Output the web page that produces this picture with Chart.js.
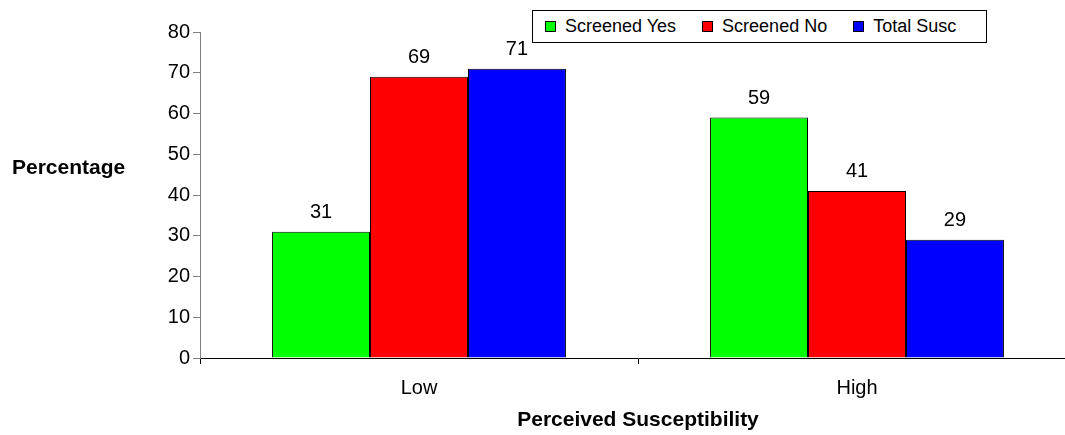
<!DOCTYPE html>
<html>
<head>
<meta charset="utf-8">
<script src="https://cdn.jsdelivr.net/npm/chart.js@4.4.0/dist/chart.umd.min.js"></script>
<style>
  body { margin: 0; background: #fff; overflow: hidden; font-family: Arial, "Liberation Sans", sans-serif; }
  #wrap { position: relative; width: 1080px; height: 435px; }
  #legend {
    position: absolute; left: 532px; top: 10px; width: 453px; height: 31px;
    border: 1px solid #000; background: #fff;
    display: flex; align-items: center; font-size: 18px; color: #000;
  }
  .item { display: flex; align-items: center; margin-left: 12px; margin-right: 14px; }
  .box { width: 9px; height: 9px; border: 1px solid #000; margin-right: 9px; }
</style>
</head>
<body>
<div id="wrap">
  <canvas id="chart" width="1080" height="435"></canvas>
  <div id="legend"></div>
</div>
<script>
const categories = ['Low', 'High'];
const seriesNames = ['Screened Yes', 'Screened No', 'Total Susc'];
const screenedYes = [31, 59];
const screenedNo = [69, 41];
const totalSusc = [71, 29];
const colors = ['#00ff00', '#ff0000', '#0000ff'];
const yTicks = [0, 10, 20, 30, 40, 50, 60, 70, 80];

const values = [screenedYes, screenedNo, totalSusc];

// legend box
const legendDiv = document.getElementById('legend');
seriesNames.forEach((name, i) => {
    const item = document.createElement('div');
    item.className = 'item';
    item.innerHTML = `<span class="box" style="background:${colors[i]}"></span><span>${name}</span>`;
    legendDiv.appendChild(item);
});

const barLabels = {
    id: 'barLabels',
    afterDatasetsDraw(chart) {
        const ctx = chart.ctx;
        ctx.save();
        ctx.font = '20px Arial, "Liberation Sans"';
        ctx.fillStyle = '#000';
        ctx.textAlign = 'center';
        ctx.textBaseline = 'middle';
        chart.data.datasets.forEach((ds, i) => {
            chart.getDatasetMeta(i).data.forEach((bar, j) => {
                ctx.fillText(ds.data[j], bar.x, bar.y - 19);
            });
        });
        // horizontal y title
        ctx.font = 'bold 21px Arial, "Liberation Sans"';
        ctx.textAlign = 'left';
        ctx.fillText('Percentage', 12, 168);
        ctx.restore();
    }
};

const ctx = document.getElementById('chart').getContext('2d');
const chart = new Chart(ctx, {
    type: 'bar',
    data: {
        labels: categories,
        datasets: seriesNames.map((name, i) => ({
            label: name,
            data: values[i],
            backgroundColor: colors[i],
            borderColor: '#000',
            borderWidth: 1,
            categoryPercentage: 0.671,
            barPercentage: 1
        }))
    },
    options: {
        responsive: false,
        animation: false,
        layout: { padding: { left: 0, top: 32, right: 4, bottom: 0 } },
        plugins: {
            legend: { display: false },
            tooltip: { enabled: false }
        },
        scales: {
            x: {
                grid: { offset: true, drawOnChartArea: false, tickLength: 6, color: '#000' },
                border: { color: '#000', width: 1 },
                ticks: { color: '#000', font: { size: 20, family: 'Arial, "Liberation Sans"' }, padding: 12 },
                title: {
                    display: true,
                    text: 'Perceived Susceptibility',
                    color: '#000',
                    font: { size: 21, weight: 'bold', family: 'Arial, "Liberation Sans"' },
                    padding: { top: 0, bottom: 2 }
                },
                afterFit(scale) { scale.height = 77; }
            },
            y: {
                min: 0,
                max: 80,
                afterBuildTicks(scale) { scale.ticks = yTicks.map(v => ({ value: v })); },
                grid: { drawOnChartArea: false, tickLength: 7, color: '#808080' },
                border: { color: '#808080', width: 1 },
                ticks: { color: '#000', font: { size: 20, family: 'Arial, "Liberation Sans"' }, padding: 3 },
                afterFit(scale) { scale.width = 200; }
            }
        }
    },
    plugins: [barLabels]
});
</script>
</body>
</html>
